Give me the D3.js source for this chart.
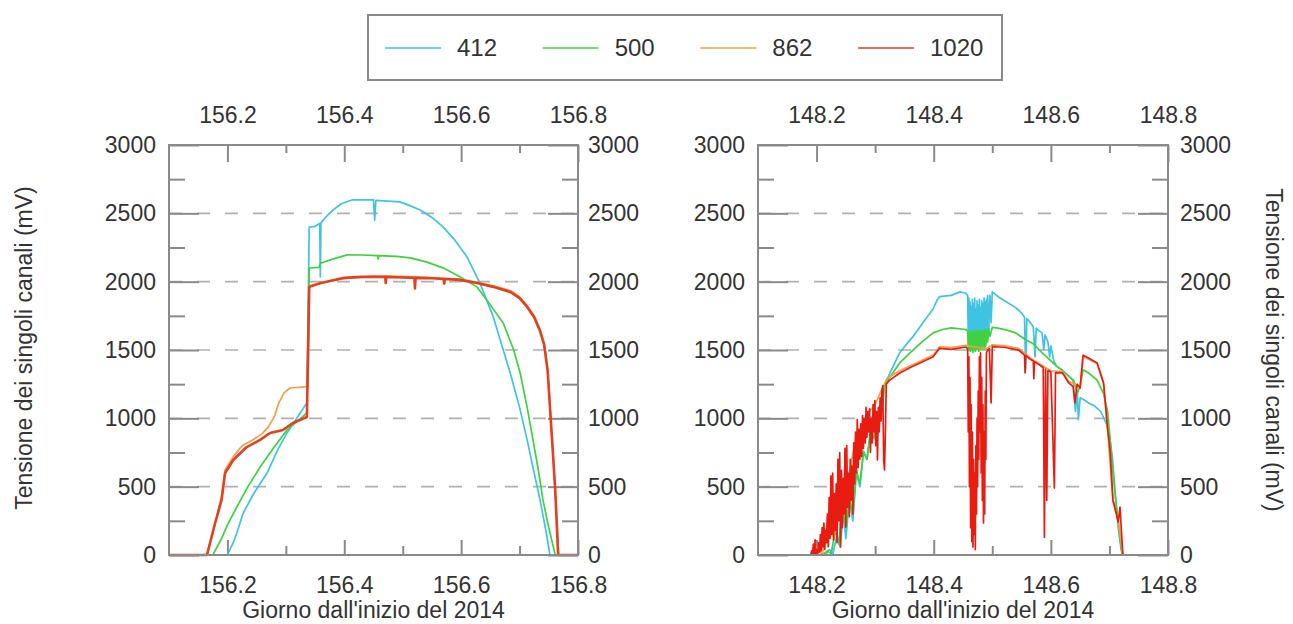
<!DOCTYPE html>
<html>
<head>
<meta charset="utf-8">
<script src="https://cdn.jsdelivr.net/npm/d3@7"></script>
<style>
  html, body { margin: 0; padding: 0; background: #fff; }
  svg { display: block; }
  text { font-family: "Liberation Sans", Arial, sans-serif; fill: #333; }
</style>
</head>
<body>
<svg id="chart" width="1293" height="624"></svg>
<script>
// ---------------- DATA ----------------
const channels = ["412", "500", "862", "1020"];
const channelColors = ["#3fc3e2", "#3fd23f", "#f0a04a", "#e2401e"];

const yMajorTicks = [0, 500, 1000, 1500, 2000, 2500, 3000];
const yMinorTicks = [250, 750, 1250, 1750, 2250, 2750];

const leftDomain = [156.1, 156.8];
const leftMajorTicks = [156.2, 156.4, 156.6, 156.8];
const leftMinorTicks = [156.3, 156.5, 156.7];

const rightDomain = [148.1, 148.8];
const rightMajorTicks = [148.2, 148.4, 148.6, 148.8];
const rightMinorTicks = [148.3, 148.5, 148.7];

// Left panel (day 156)
const left412 = [[156.10,0],[156.20,0],[156.21,90],[156.216,161],[156.227,307],[156.245,450],[156.268,600],[156.285,760],[156.302,893],[156.32,1010],[156.336,1113],[156.34,2400],[156.35,2405],[156.358,2425],[156.359,2035],[156.36,2430],[156.37,2480],[156.381,2525],[156.395,2570],[156.413,2598],[156.45,2598],[156.452,2450],[156.454,2595],[156.495,2584],[156.51,2560],[156.53,2525],[156.55,2470],[156.569,2401],[156.59,2300],[156.61,2181],[156.632,1991],[156.655,1742],[156.684,1332],[156.70,1080],[156.713,842],[156.725,600],[156.735,403],[156.745,180],[156.752,0],[156.80,0]];
const left500 = [[156.10,0],[156.175,0],[156.19,120],[156.20,220],[156.216,351],[156.235,500],[156.256,644],[156.28,790],[156.302,915],[156.32,980],[156.336,1040],[156.34,2100],[156.357,2105],[156.359,2135],[156.38,2165],[156.405,2196],[156.43,2195],[156.457,2190],[156.458,2165],[156.459,2190],[156.49,2185],[156.513,2174],[156.54,2145],[156.569,2101],[156.60,2030],[156.627,1962],[156.65,1830],[156.672,1698],[156.69,1500],[156.701,1332],[156.713,1080],[156.723,842],[156.733,600],[156.74,403],[156.75,200],[156.761,0],[156.80,0]];
const left862 = [[156.10,0],[156.165,0],[156.18,250],[156.19,430],[156.196,622],[156.21,720],[156.225,800],[156.243,842],[156.26,890],[156.27,937],[156.28,1010],[156.288,1113],[156.297,1186],[156.307,1222],[156.338,1232],[156.34,1970],[156.36,1990],[156.40,2022],[156.45,2040],[156.50,2038],[156.55,2030],[156.598,2018],[156.627,1995],[156.655,1970],[156.684,1935],[156.70,1890],[156.713,1825],[156.725,1750],[156.735,1650],[156.742,1550],[156.748,1360],[156.752,1090],[156.757,760],[156.761,480],[156.767,0],[156.80,0]];
const left1020 = [[156.10,0],[156.165,0],[156.179,234],[156.19,403],[156.196,600],[156.21,695],[156.233,790],[156.256,842],[156.273,893],[156.295,915],[156.312,966],[156.336,1010],[156.34,1962],[156.36,1991],[156.40,2028],[156.43,2035],[156.47,2035],[156.471,1990],[156.472,2035],[156.50,2030],[156.52,2028],[156.521,1950],[156.522,2028],[156.55,2025],[156.57,2020],[156.571,1985],[156.572,2020],[156.598,2013],[156.627,1990],[156.655,1962],[156.684,1925],[156.70,1880],[156.713,1815],[156.725,1740],[156.735,1640],[156.742,1540],[156.748,1350],[156.752,1083],[156.757,750],[156.761,476],[156.766,0],[156.80,0]];

// Right panel (day 148)
const right412 = [[148.10,0],[148.215,0],[148.222,40],[148.228,10],[148.235,150],[148.24,60],[148.246,300],[148.25,120],[148.256,400],[148.262,250],[148.268,600],[148.274,500],[148.28,750],[148.286,700],[148.292,900],[148.298,850],[148.304,1050],[148.31,1000],[148.316,1240],[148.325,1330],[148.342,1480],[148.355,1550],[148.365,1600],[148.375,1660],[148.385,1720],[148.399,1800],[148.405,1860],[148.41,1890],[148.43,1900],[148.445,1925],[148.455,1915],[148.458,1900],[148.459,1600],[148.460,1880],[148.461,1520],[148.462,1850],[148.463,1500],[148.464,1820],[148.465,1510],[148.466,1870],[148.467,1500],[148.468,1840],[148.469,1530],[148.470,1880],[148.471,1500],[148.472,1800],[148.473,1520],[148.474,1860],[148.475,1540],[148.476,1830],[148.477,1500],[148.478,1870],[148.479,1520],[148.480,1810],[148.481,1550],[148.482,1860],[148.483,1510],[148.484,1840],[148.485,1560],[148.486,1880],[148.487,1520],[148.488,1850],[148.489,1580],[148.490,1870],[148.491,1620],[148.492,1900],[148.494,1650],[148.496,1900],[148.498,1700],[148.50,1925],[148.51,1890],[148.525,1850],[148.54,1810],[148.55,1770],[148.555,1740],[148.557,1360],[148.559,1730],[148.565,1700],[148.57,1670],[148.573,1450],[148.575,1660],[148.58,1640],[148.585,1625],[148.588,1500],[148.59,1610],[148.595,1560],[148.598,1450],[148.60,1530],[148.605,1420],[148.61,1380],[148.62,1350],[148.63,1310],[148.638,1280],[148.642,1050],[148.645,1200],[148.647,990],[148.65,1150],[148.655,1140],[148.665,1110],[148.675,1090],[148.685,1050],[148.695,960],[148.70,880],[148.705,720],[148.71,450],[148.715,200],[148.72,40],[148.722,0],[148.80,0]];
const right500 = [[148.10,0],[148.21,0],[148.218,30],[148.225,10],[148.232,180],[148.238,80],[148.244,350],[148.25,200],[148.256,420],[148.262,300],[148.268,620],[148.274,520],[148.28,760],[148.286,700],[148.292,900],[148.298,860],[148.304,1050],[148.31,1000],[148.316,1240],[148.325,1300],[148.342,1405],[148.36,1480],[148.38,1560],[148.399,1625],[148.415,1650],[148.43,1662],[148.455,1650],[148.458,1640],[148.459,1510],[148.460,1630],[148.461,1495],[148.462,1620],[148.463,1490],[148.464,1640],[148.465,1500],[148.466,1630],[148.467,1480],[148.468,1620],[148.469,1500],[148.470,1645],[148.471,1490],[148.472,1625],[148.473,1500],[148.474,1640],[148.475,1510],[148.476,1630],[148.477,1490],[148.478,1645],[148.479,1500],[148.480,1625],[148.481,1510],[148.482,1640],[148.483,1500],[148.484,1630],[148.485,1520],[148.486,1645],[148.487,1505],[148.488,1640],[148.489,1530],[148.490,1650],[148.492,1560],[148.494,1655],[148.496,1600],[148.50,1665],[148.51,1660],[148.525,1645],[148.54,1625],[148.555,1580],[148.57,1545],[148.585,1480],[148.60,1420],[148.61,1380],[148.62,1350],[148.63,1310],[148.64,1270],[148.645,1180],[148.65,1240],[148.655,1355],[148.665,1330],[148.679,1280],[148.69,1180],[148.697,1050],[148.701,850],[148.706,600],[148.712,350],[148.718,120],[148.722,0],[148.80,0]];
const right862 = [[148.10,0],[148.19,0],[148.20,60],[148.21,0],[148.22,300],[148.23,120],[148.24,600],[148.25,350],[148.26,700],[148.27,900],[148.28,950],[148.29,1050],[148.30,1100],[148.31,1200],[148.32,1290],[148.34,1345],[148.36,1385],[148.38,1425],[148.40,1465],[148.41,1525],[148.43,1518],[148.455,1535],[148.47,1522],[148.49,1512],[148.50,1538],[148.52,1532],[148.545,1512],[148.565,1442],[148.587,1382],[148.60,1348],[148.62,1342],[148.63,1272],[148.65,1232],[148.655,1452],[148.679,1402],[148.69,1252],[148.697,912],[148.706,392],[148.716,232],[148.723,0],[148.80,0]];
const right1020 = [[148.10,0],[148.19,0],[148.1915,30],[148.193,0],[148.1945,80],[148.196,10],[148.1975,110],[148.199,0],[148.2005,40],[148.202,0],[148.2035,90],[148.205,20],[148.2065,150],[148.208,30],[148.2095,200],[148.211,60],[148.2125,234],[148.214,40],[148.2155,180],[148.217,90],[148.2185,300],[148.220,60],[148.2215,420],[148.223,120],[148.2245,580],[148.226,150],[148.2275,600],[148.229,110],[148.2305,450],[148.232,180],[148.2335,520],[148.235,90],[148.2365,700],[148.238,250],[148.2395,750],[148.241,59],[148.2425,620],[148.244,200],[148.2455,560],[148.247,300],[148.2485,780],[148.250,205],[148.2515,800],[148.253,350],[148.2545,600],[148.256,280],[148.2575,700],[148.259,400],[148.2605,650],[148.262,300],[148.2635,820],[148.265,520],[148.2665,900],[148.268,600],[148.2695,990],[148.271,640],[148.2725,920],[148.274,700],[148.2755,960],[148.277,720],[148.2785,1020],[148.280,780],[148.2815,1000],[148.283,820],[148.2845,1080],[148.286,860],[148.2875,1050],[148.289,900],[148.2905,1070],[148.292,750],[148.2935,1000],[148.295,820],[148.2965,1100],[148.298,900],[148.2995,1130],[148.301,800],[148.3025,1050],[148.304,695],[148.3055,1080],[148.307,900],[148.3085,1150],[148.310,980],[148.3115,1200],[148.313,1240],[148.3145,700],[148.316,622],[148.3175,900],[148.319,1250],[148.325,1280],[148.342,1332],[148.36,1372],[148.38,1412],[148.399,1450],[148.41,1512],[148.43,1505],[148.455,1522],[148.458,1505],[148.459,900],[148.460,1450],[148.461,500],[148.462,1300],[148.463,200],[148.464,1100],[148.465,100],[148.466,900],[148.467,59],[148.468,700],[148.469,150],[148.470,600],[148.471,40],[148.472,800],[148.473,300],[148.474,1000],[148.475,500],[148.476,1200],[148.477,700],[148.478,1450],[148.479,900],[148.480,1480],[148.481,600],[148.482,1300],[148.483,400],[148.484,1100],[148.485,234],[148.486,900],[148.487,300],[148.488,1200],[148.489,700],[148.490,1480],[148.492,1500],[148.495,1510],[148.498,1113],[148.50,1525],[148.52,1520],[148.545,1500],[148.555,1462],[148.556,1332],[148.557,1460],[148.565,1432],[148.57,1420],[148.571,1290],[148.572,1415],[148.587,1372],[148.589,130],[148.591,1360],[148.593,400],[148.595,1350],[148.60,1340],[148.606,490],[148.608,1335],[148.62,1332],[148.63,1262],[148.638,1232],[148.641,1113],[148.645,1250],[148.65,1222],[148.655,1462],[148.665,1440],[148.679,1405],[148.69,1260],[148.697,920],[148.701,770],[148.706,403],[148.712,300],[148.715,240],[148.718,351],[148.723,0],[148.80,0]];

const leftSeries = [left412, left500, left862, left1020];
const rightSeries = [right412, right500, right862, right1020];

// ---------------- DRAW ----------------
const svg = d3.select("#chart");
const FONT = 23;
const plotTop = 145, plotBottom = 555;

function panel(cfg) {
  const x = d3.scaleLinear().domain(cfg.domain).range([cfg.x0, cfg.x1]);
  const y = d3.scaleLinear().domain([0, 3000]).range([plotBottom, plotTop]);
  const g = svg.append("g");

  // grid
  g.append("g").selectAll("line").data(yMajorTicks.slice(1, -1)).join("line")
    .attr("x1", cfg.x0).attr("x2", cfg.x1)
    .attr("y1", d => y(d)).attr("y2", d => y(d))
    .attr("stroke", "#b0b0b0").attr("stroke-width", 1.6)
    .attr("stroke-dasharray", "13,15");

  const styleAxis = (sel, showText) => {
    sel.select(".domain").remove();
    sel.selectAll(".tick line").attr("stroke", "#8a8a8a").attr("stroke-width", 2);
    sel.selectAll(".tick text").style("font-size", FONT + "px").attr("fill", "#333")
      .style("font-family", '"Liberation Sans", Arial, sans-serif');
    if (!showText) sel.selectAll(".tick text").remove();
  };

  // x axes
  g.append("g").attr("transform", `translate(0,${plotBottom})`)
    .call(d3.axisBottom(x).tickValues(cfg.major).tickSize(-15).tickPadding(22).tickFormat(d3.format(".1f")))
    .call(s => styleAxis(s, true));
  g.append("g").attr("transform", `translate(0,${plotBottom})`)
    .call(d3.axisBottom(x).tickValues(cfg.minor).tickSize(-9).tickFormat(""))
    .call(s => styleAxis(s, false));
  g.append("g").attr("transform", `translate(0,${plotTop})`)
    .call(d3.axisTop(x).tickValues(cfg.major).tickSize(-17).tickPadding(22).tickFormat(d3.format(".1f")))
    .call(s => styleAxis(s, true));
  g.append("g").attr("transform", `translate(0,${plotTop})`)
    .call(d3.axisTop(x).tickValues(cfg.minor).tickSize(-8).tickFormat(""))
    .call(s => styleAxis(s, false));

  // y axes
  g.append("g").attr("transform", `translate(${cfg.x0},0)`)
    .call(d3.axisLeft(y).tickValues(yMajorTicks).tickSize(-30).tickPadding(cfg.padL).tickFormat(d3.format("d")))
    .call(s => styleAxis(s, true));
  g.append("g").attr("transform", `translate(${cfg.x0},0)`)
    .call(d3.axisLeft(y).tickValues(yMinorTicks).tickSize(-16).tickFormat(""))
    .call(s => styleAxis(s, false));
  g.append("g").attr("transform", `translate(${cfg.x1},0)`)
    .call(d3.axisRight(y).tickValues(yMajorTicks).tickSize(-30).tickPadding(cfg.padR).tickFormat(d3.format("d")))
    .call(s => styleAxis(s, true));
  g.append("g").attr("transform", `translate(${cfg.x1},0)`)
    .call(d3.axisRight(y).tickValues(yMinorTicks).tickSize(-16).tickFormat(""))
    .call(s => styleAxis(s, false));

  // data lines
  const line = d3.line().x(d => x(d[0])).y(d => y(d[1]));
  cfg.series.forEach((s, i) => {
    g.append("path").datum(s)
      .attr("d", line)
      .attr("fill", "none")
      .attr("stroke", i === 3 ? cfg.redColor : channelColors[i])
      .attr("stroke-width", i === 3 ? cfg.redWidth : 1.7)
      .attr("stroke-linejoin", "round");
  });

  // frame
  g.append("rect").attr("x", cfg.x0).attr("y", plotTop)
    .attr("width", cfg.x1 - cfg.x0).attr("height", plotBottom - plotTop)
    .attr("fill", "none").attr("stroke", "#8a8a8a").attr("stroke-width", 2);

  // x title
  g.append("text").attr("x", (cfg.x0 + cfg.x1) / 2).attr("y", 618)
    .attr("text-anchor", "middle").style("font-size", "23px")
    .text("Giorno dall'inizio del 2014");
}

panel({ domain: leftDomain, x0: 169, x1: 578, major: leftMajorTicks, minor: leftMinorTicks,
        series: leftSeries, padL: 13, padR: 10, redColor: "#e2401e", redWidth: 2.6 });
panel({ domain: rightDomain, x0: 758, x1: 1168, major: rightMajorTicks, minor: rightMinorTicks,
        series: rightSeries, padL: 13, padR: 12, redColor: "#e81c10", redWidth: 1.7 });

// y titles
svg.append("text").attr("transform", "translate(32,348) rotate(-90)")
  .attr("text-anchor", "middle").style("font-size", "23px")
  .text("Tensione dei singoli canali (mV)");
svg.append("text").attr("transform", "translate(1266,350) rotate(90)")
  .attr("text-anchor", "middle").style("font-size", "23px")
  .text("Tensione dei singoli canali (mV)");

// legend
const legend = svg.append("g");
legend.append("rect").attr("x", 368).attr("y", 15).attr("width", 634).attr("height", 65)
  .attr("fill", "#fff").attr("stroke", "#8a8a8a").attr("stroke-width", 2);
const legX = d3.scalePoint().domain(channels).range([385, 858]);
channels.forEach((c, i) => {
  const lx = legX(c);
  legend.append("line").attr("x1", lx).attr("x2", lx + 56).attr("y1", 48).attr("y2", 48)
    .attr("stroke", i === 3 ? "#e2401e" : channelColors[i]).attr("stroke-width", 1.6);
  legend.append("text").attr("x", lx + 72).attr("y", 48).attr("dy", "0.35em")
    .style("font-size", "24px").text(c);
});
</script>
</body>
</html>
